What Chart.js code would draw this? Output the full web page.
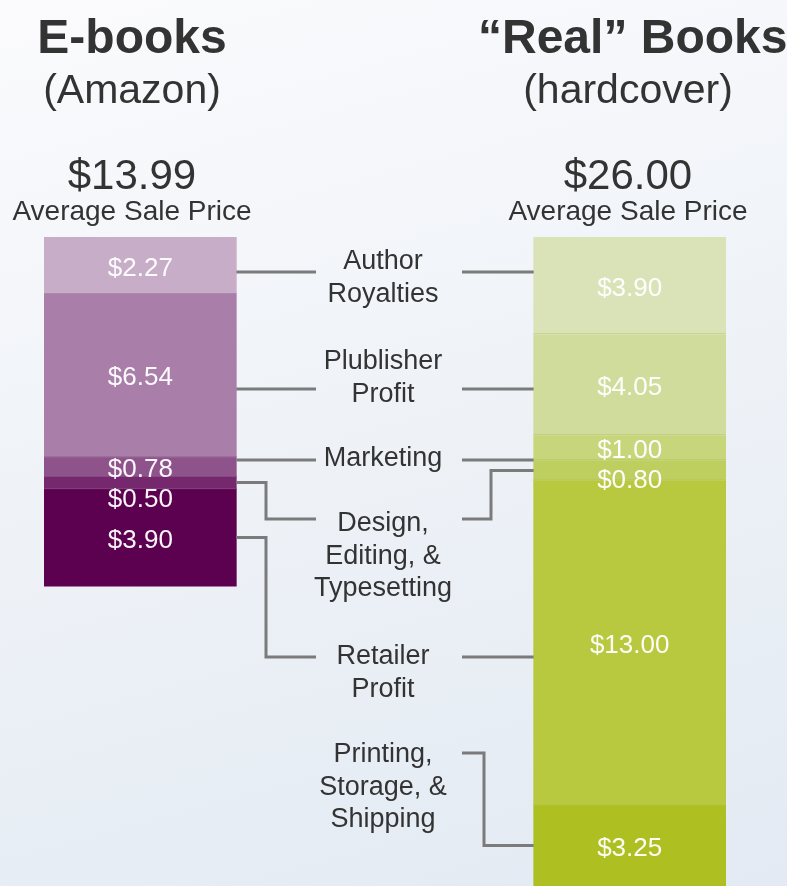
<!DOCTYPE html>
<html>
<head>
    <title>E-books vs Real Books</title>
    <style>
        html, body {
            margin: 0;
            padding: 0;
            width: 787px;
            height: 886px;
            overflow: hidden;
        }
        body {
            background: linear-gradient(165deg, #fbfbfd 0%, #eef2f7 50%, #e3eaf3 100%);
            font-family: "Liberation Sans", Arial, Helvetica, sans-serif;
            color: #333;
            position: relative;
        }
        #chart {
            position: absolute;
            left: 0;
            top: 0;
        }
        .head {
            position: absolute;
            width: 300px;
            text-align: center;
            line-height: 1;
            white-space: nowrap;
        }
        .title { font-size: 48px; font-weight: bold; }
        .sub { font-size: 41px; }
        .price { font-size: 42px; }
        .avg { font-size: 28px; }
        .item {
            position: absolute;
            left: 283px;
            width: 200px;
            text-align: center;
            font-size: 27px;
            line-height: 32.5px;
            color: #333;
        }
    </style>
</head>
<body>
    <canvas id="chart" width="787" height="886"></canvas>

    <div class="head title" style="left: -18px; top: 13px;">E-books</div>
    <div class="head sub" style="left: -18px; top: 69px;">(Amazon)</div>
    <div class="head price" style="left: -18px; top: 154px;" id="ebook-total"></div>
    <div class="head avg" style="left: -18px; top: 197px;">Average Sale Price</div>

    <div class="head title" style="left: 478px; top: 13px;">“Real” Books</div>
    <div class="head sub" style="left: 478px; top: 69px;">(hardcover)</div>
    <div class="head price" style="left: 478px; top: 154px;" id="hardcover-total"></div>
    <div class="head avg" style="left: 478px; top: 197px;">Average Sale Price</div>

    <div class="item" style="top: 244px;">Author<br>Royalties</div>
    <div class="item" style="top: 344px;">Plublisher<br>Profit</div>
    <div class="item" style="top: 441px;">Marketing</div>
    <div class="item" style="top: 506px;">Design,<br>Editing, &amp;<br>Typesetting</div>
    <div class="item" style="top: 639px;">Retailer<br>Profit</div>
    <div class="item" style="top: 737px;">Printing,<br>Storage, &amp;<br>Shipping</div>

    <script src="https://cdn.jsdelivr.net/npm/chart.js"></script>

    <script>
        // Data (top to bottom of each bar)
        const columns = ['E-books', '', 'Real Books'];
        const costItems = ['Author Royalties', 'Publisher Profit', 'Marketing',
                           'Design, Editing, & Typesetting', 'Retailer Profit',
                           'Printing, Storage, & Shipping'];
        const ebookValues = [2.27, 6.54, 0.78, 0.50, 3.90, null];
        const hardcoverValues = [3.90, 4.05, 1.00, 0.80, 13.00, 3.25];

        // Colours per segment
        const ebookColors = ['#c8adc9', '#a97fa9', '#8f538c', '#76286e', '#5c0050', '#5c0050'];
        const hardcoverColors = ['#dae3b8', '#d0dc9b', '#c7d57b', '#bfcf5f', '#b8c83f', '#aec021'];

        const sum = arr => arr.reduce((a, b) => a + (b || 0), 0);
        document.getElementById('ebook-total').textContent = '$' + sum(ebookValues).toFixed(2);
        document.getElementById('hardcover-total').textContent = '$' + sum(hardcoverValues).toFixed(2);

        const datasets = costItems.map((item, i) => ({
            label: item,
            data: [ebookValues[i], null, hardcoverValues[i]],
            backgroundColor: [ebookColors[i], 'transparent', hardcoverColors[i]],
            borderWidth: 0,
            barThickness: 192,
        }));

        // thin seam at the top of each segment + value labels
        const valueLabels = {
            id: 'valueLabels',
            afterDatasetsDraw(chart) {
                const ctx = chart.ctx;
                ctx.save();
                [0, 2].forEach(col => {
                    chart.data.datasets.forEach((ds, di) => {
                        if (di === 0 || ds.data[col] == null) return;
                        const bar = chart.getDatasetMeta(di).data[col];
                        ctx.fillStyle = col === 0 ? 'rgba(140,90,140,0.45)' : 'rgba(175,195,90,0.45)';
                        ctx.fillRect(bar.x - bar.width / 2, Math.round(bar.base) - 1, bar.width, 1);
                    });
                });
                ctx.font = '26px "Liberation Sans", Arial, sans-serif';
                ctx.fillStyle = 'rgba(255,255,255,0.96)';
                ctx.textAlign = 'center';
                ctx.textBaseline = 'middle';
                [0, 2].forEach(col => {
                    let lastY = -1000;
                    chart.data.datasets.forEach((ds, di) => {
                        const v = ds.data[col];
                        if (v == null) return;
                        const bar = chart.getDatasetMeta(di).data[col];
                        let y = (bar.y + bar.base) / 2 + 2;
                        if (y - lastY < 30) y = lastY + 30;
                        lastY = y;
                        ctx.fillText('$' + v.toFixed(2), bar.x, y + 1);
                    });
                });
                ctx.restore();
            }
        };

        // connector lines between the bars and the middle labels
        const connectors = {
            id: 'connectors',
            afterDatasetsDraw(chart) {
                const ctx = chart.ctx;
                const left = chart.getDatasetMeta(0).data[0];
                const right = chart.getDatasetMeta(0).data[2];
                const lx = left.x + left.width / 2;
                const rx = right.x - right.width / 2;
                const mid = (di, col) => {
                    const b = chart.getDatasetMeta(di).data[col];
                    return (b.y + b.base) / 2;
                };
                const a = 316, b = 462;
                const path = pts => {
                    ctx.beginPath();
                    ctx.moveTo(pts[0][0], pts[0][1]);
                    pts.slice(1).forEach(p => ctx.lineTo(p[0], p[1]));
                    ctx.stroke();
                };
                ctx.save();
                ctx.strokeStyle = '#7b7b7b';
                ctx.lineWidth = 3;
                ctx.lineJoin = 'miter';
                // author, publisher, marketing
                [272, 389, 460].forEach(y => {
                    path([[lx, y], [a, y]]);
                    path([[b, y], [rx, y]]);
                });
                // design
                path([[lx, mid(3, 0)], [266, mid(3, 0)], [266, 519], [a, 519]]);
                path([[rx, mid(3, 2)], [491, mid(3, 2)], [491, 519], [b, 519]]);
                // retailer
                path([[lx, mid(4, 0)], [266, mid(4, 0)], [266, 657], [a, 657]]);
                path([[b, 657], [rx, 657]]);
                // printing
                path([[b, 753], [484, 753], [484, mid(5, 2)], [rx, mid(5, 2)]]);
                ctx.restore();
            }
        };

        const ctx = document.getElementById('chart').getContext('2d');
        const chart = new Chart(ctx, {
            type: 'bar',
            data: {
                labels: columns,
                datasets: datasets,
            },
            options: {
                responsive: false,
                animation: false,
                layout: {
                    padding: { left: 18, right: 35, top: 237, bottom: 0 }
                },
                plugins: {
                    legend: { display: false },
                    tooltip: { enabled: false },
                },
                scales: {
                    x: {
                        stacked: true,
                        display: false,
                    },
                    y: {
                        stacked: true,
                        display: false,
                        reverse: true,
                        min: 0,
                        max: 26,
                    },
                },
            },
            plugins: [connectors, valueLabels],
        });
    </script>
</body>
</html>
